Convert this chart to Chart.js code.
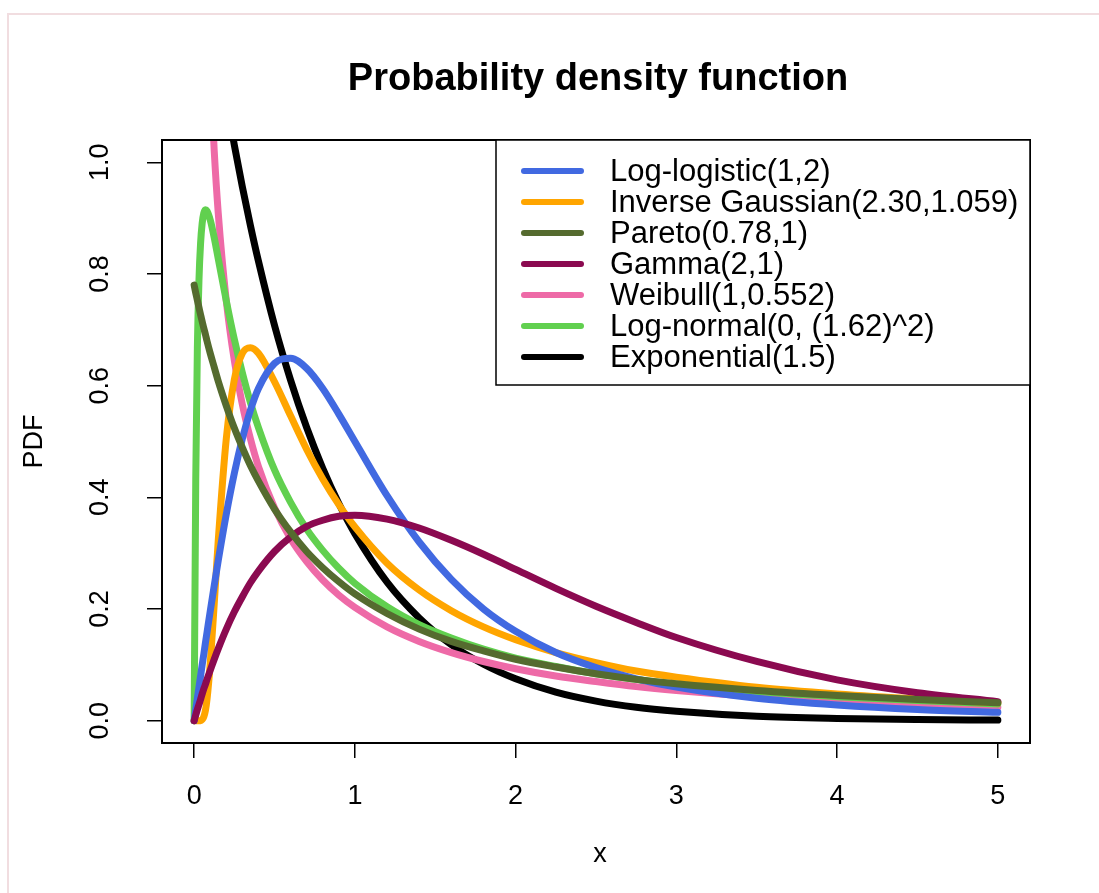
<!DOCTYPE html>
<html><head><meta charset="utf-8">
<script src="https://cdn.jsdelivr.net/npm/chart.js@4"></script>
<style>html,body{margin:0;padding:0;background:#fff;}#wrap{width:1099px;height:893px;}</style>
</head><body><div id="wrap"><canvas id="c" width="1099" height="893"></canvas></div>
<script>
// ---- data ----
const xValues = [0, 0.01, 0.02, 0.03, 0.04, 0.05, 0.06, 0.07, 0.08, 0.1, 0.125, 0.15, 0.2, 0.25, 0.3, 0.35, 0.4, 0.5, 0.6, 0.7, 0.8, 0.9, 1.0, 1.2, 1.4, 1.6, 1.8, 2.0, 2.25, 2.5, 2.75, 3.0, 3.5, 4.0, 4.5, 5.0];
const logLogistic = [0, 0.020, 0.040, 0.060, 0.080, 0.100, 0.119, 0.139, 0.158, 0.196, 0.242, 0.287, 0.370, 0.443, 0.505, 0.556, 0.595, 0.640, 0.649, 0.631, 0.595, 0.549, 0.500, 0.403, 0.320, 0.253, 0.200, 0.160, 0.122, 0.095, 0.075, 0.060, 0.040, 0.028, 0.020, 0.015];
const inverseGaussian = [0, 0, 0, 0, 0, 0.002, 0.007, 0.018, 0.038, 0.102, 0.210, 0.323, 0.505, 0.611, 0.658, 0.668, 0.658, 0.607, 0.546, 0.486, 0.433, 0.387, 0.347, 0.282, 0.234, 0.197, 0.168, 0.145, 0.122, 0.104, 0.089, 0.078, 0.060, 0.048, 0.039, 0.032];
const pareto = [0.780, 0.766, 0.753, 0.740, 0.727, 0.715, 0.703, 0.692, 0.680, 0.658, 0.633, 0.608, 0.564, 0.524, 0.489, 0.457, 0.429, 0.379, 0.338, 0.303, 0.274, 0.249, 0.227, 0.192, 0.164, 0.142, 0.125, 0.110, 0.096, 0.084, 0.074, 0.066, 0.054, 0.045, 0.038, 0.032];
const gammaPdf = [0, 0.010, 0.020, 0.029, 0.038, 0.048, 0.057, 0.065, 0.074, 0.090, 0.110, 0.129, 0.164, 0.195, 0.222, 0.247, 0.268, 0.303, 0.329, 0.348, 0.359, 0.366, 0.368, 0.361, 0.345, 0.323, 0.298, 0.271, 0.237, 0.205, 0.176, 0.149, 0.106, 0.073, 0.050, 0.034];
const weibull = [null, 4.015, 2.838, 2.299, 1.971, 1.745, 1.576, 1.443, 1.336, 1.170, 1.020, 0.909, 0.752, 0.645, 0.566, 0.505, 0.455, 0.381, 0.326, 0.285, 0.252, 0.225, 0.203, 0.168, 0.142, 0.122, 0.106, 0.093, 0.080, 0.070, 0.061, 0.054, 0.043, 0.035, 0.028, 0.024];
const logNormal = [0, 0.433, 0.667, 0.789, 0.855, 0.891, 0.909, 0.915, 0.913, 0.897, 0.865, 0.827, 0.752, 0.683, 0.623, 0.570, 0.525, 0.449, 0.391, 0.343, 0.305, 0.273, 0.246, 0.204, 0.172, 0.148, 0.128, 0.112, 0.097, 0.084, 0.074, 0.065, 0.052, 0.043, 0.036, 0.030];
const exponential = [1.500, 1.478, 1.456, 1.434, 1.413, 1.392, 1.371, 1.351, 1.331, 1.291, 1.244, 1.198, 1.111, 1.031, 0.956, 0.887, 0.823, 0.708, 0.610, 0.525, 0.452, 0.389, 0.335, 0.248, 0.184, 0.136, 0.101, 0.075, 0.051, 0.035, 0.024, 0.017, 0.008, 0.004, 0.002, 0.001];

const seriesNames = ['Log-logistic(1,2)', 'Inverse Gaussian(2.30,1.059)', 'Pareto(0.78,1)', 'Gamma(2,1)', 'Weibull(1,0.552)', 'Log-normal(0, (1.62)^2)', 'Exponential(1.5)'];
const seriesValues = [logLogistic, inverseGaussian, pareto, gammaPdf, weibull, logNormal, exponential];
const seriesColors = ['#4169E1', '#FFA500', '#556B2F', '#8B0A50', '#EE6AA7', '#61D04F', '#000000'];
const drawOrder = [3, 4, 1, 2, 6, 5, 7]; // lower = drawn on top

const xTicks = [0, 1, 2, 3, 4, 5];
const yTicks = [0, 0.2, 0.4, 0.6, 0.8, 1.0];
const yTickLabels = ['0.0', '0.2', '0.4', '0.6', '0.8', '1.0'];
const titleText = 'Probability density function';
const xTitle = 'x';
const yTitle = 'PDF';

const FONT = "'Liberation Sans', Arial, Helvetica, sans-serif";

const datasets = seriesNames.map((name, i) => ({
  label: name,
  data: xValues.map((x, j) => ({ x: x, y: seriesValues[i][j] })),
  borderColor: seriesColors[i],
  backgroundColor: seriesColors[i],
  borderWidth: 7,
  pointRadius: 0,
  fill: false,
  cubicInterpolationMode: 'monotone',
  borderCapStyle: 'round',
  borderJoinStyle: 'round',
  order: drawOrder[i]
}));

const decor = {
  id: 'decor',
  beforeDraw(chart) {
    const ctx = chart.ctx;
    ctx.save();
    ctx.fillStyle = '#fff';
    ctx.fillRect(0, 0, chart.width, chart.height);
    ctx.strokeStyle = '#f1dde0';
    ctx.lineWidth = 2;
    ctx.beginPath();
    ctx.moveTo(8, chart.height);
    ctx.lineTo(8, 14);
    ctx.lineTo(chart.width, 14);
    ctx.stroke();
    ctx.restore();
  },
  afterDraw(chart) {
    const ctx = chart.ctx;
    const a = chart.chartArea;
    const ys = chart.scales.y;
    ctx.save();
    // plot box
    ctx.strokeStyle = '#000';
    ctx.lineWidth = 2;
    ctx.strokeRect(a.left, a.top, a.right - a.left, a.bottom - a.top);
    // title
    ctx.fillStyle = '#000';
    ctx.font = 'bold 38px ' + FONT;
    ctx.textAlign = 'center';
    ctx.textBaseline = 'middle';
    ctx.fillText(titleText, 598, 80);
    // axis titles
    ctx.font = '27px ' + FONT;
    ctx.fillText(xTitle, 600, 855);
    ctx.save();
    ctx.translate(35, (a.top + a.bottom) / 2);
    ctx.rotate(-Math.PI / 2);
    ctx.fillText(yTitle, 0, 0);
    ctx.restore();
    // y tick labels (rotated, parallel to axis)
    ctx.font = '27px ' + FONT;
    yTicks.forEach((v, i) => {
      const py = ys.getPixelForValue(v);
      ctx.save();
      ctx.translate(101, py);
      ctx.rotate(-Math.PI / 2);
      ctx.fillText(yTickLabels[i], 0, 0);
      ctx.restore();
    });
    // legend
    const lx = 496, ly = a.top, lw = a.right - lx, lh = 245;
    ctx.fillStyle = '#fff';
    ctx.fillRect(lx, ly, lw, lh);
    ctx.strokeStyle = '#000';
    ctx.lineWidth = 1.5;
    ctx.strokeRect(lx, ly, lw, lh);
    ctx.font = '31px ' + FONT;
    ctx.textAlign = 'left';
    ctx.textBaseline = 'middle';
    chart.data.datasets.forEach((ds, i) => {
      const rowY = ly + 31 + i * 31;
      ctx.strokeStyle = ds.borderColor;
      ctx.lineWidth = 6;
      ctx.lineCap = 'round';
      ctx.beginPath();
      ctx.moveTo(524, rowY);
      ctx.lineTo(581, rowY);
      ctx.stroke();
      ctx.fillStyle = '#000';
      ctx.fillText(ds.label, 610, rowY + 1);
    });
    ctx.restore();
  }
};

new Chart(document.getElementById('c'), {
  type: 'line',
  data: { datasets: datasets },
  options: {
    responsive: false,
    animation: false,
    devicePixelRatio: 1,
    parsing: true,
    layout: { padding: { left: 0, right: 69, top: 140, bottom: 0 } },
    plugins: { legend: { display: false }, title: { display: false }, tooltip: { enabled: false } },
    scales: {
      x: {
        type: 'linear', min: -0.2, max: 5.2,
        afterBuildTicks: s => { s.ticks = xTicks.map(v => ({ value: v })); },
        afterFit: s => { s.height = 150; },
        grid: { display: true, drawOnChartArea: false, drawTicks: true, tickLength: 15, color: '#000', lineWidth: 1.5 },
        border: { display: true, color: '#000', width: 2 },
        ticks: { color: '#000', font: { family: FONT, size: 27 }, padding: 22, maxRotation: 0, autoSkip: false, callback: v => String(v) }
      },
      y: {
        type: 'linear', min: -0.04, max: 1.04,
        afterBuildTicks: s => { s.ticks = yTicks.map(v => ({ value: v })); },
        afterFit: s => { s.width = 162; },
        grid: { display: true, drawOnChartArea: false, drawTicks: true, tickLength: 15, color: '#000', lineWidth: 1.5 },
        border: { display: true, color: '#000', width: 2 },
        ticks: { display: false }
      }
    }
  },
  plugins: [decor]
});
</script>
</body></html>
